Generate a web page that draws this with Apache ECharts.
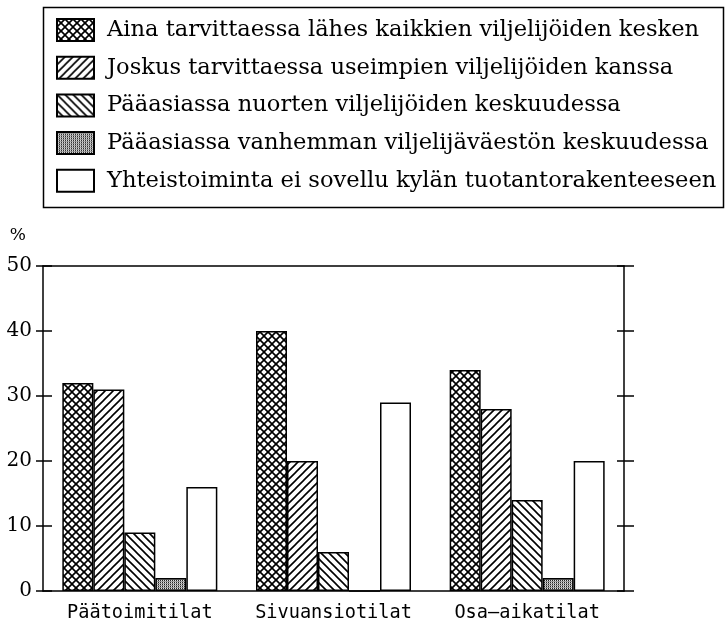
<!DOCTYPE html>
<html>
<head>
<meta charset="utf-8">
<script src="https://cdn.jsdelivr.net/npm/echarts@6/dist/echarts.min.js"></script>
<style>
  html, body { margin: 0; padding: 0; background: #fff; }
  #chart { width: 725px; height: 628px; }
</style>
</head>
<body>
<div id="chart"></div>
<script>
// categories and values (%)
const categories = ['Päätoimitilat', 'Sivuansiotilat', 'Osa–aikatilat'];
const seriesNames = [
  'Aina tarvittaessa lähes kaikkien viljelijöiden kesken',
  'Joskus tarvittaessa useimpien viljelijöiden kanssa',
  'Pääasiassa nuorten viljelijöiden keskuudessa',
  'Pääasiassa vanhemman viljelijäväestön keskuudessa',
  'Yhteistoiminta ei sovellu kylän tuotantorakenteeseen'
];
const ainaValues = [32, 40, 34];
const joskusValues = [31, 20, 28];
const nuortenValues = [9, 6, 14];
const vanhemmanValues = [2, 0, 2];
const eiSovelluValues = [16, 29, 20];
const yTicks = [0, 10, 20, 30, 40, 50];

// hatch fills drawn on small canvases
function tile(draw, size) {
  const c = document.createElement('canvas');
  c.width = size; c.height = size;
  const ctx = c.getContext('2d');
  ctx.fillStyle = '#fff';
  ctx.fillRect(0, 0, size, size);
  ctx.strokeStyle = '#000';
  ctx.lineWidth = 1.6;
  draw(ctx, size);
  return { image: c, repeat: 'repeat' };
}
function forward(ctx, s) {
  ctx.beginPath();
  ctx.moveTo(-1, s + 1); ctx.lineTo(s + 1, -1);
  ctx.moveTo(-1, 1); ctx.lineTo(1, -1);
  ctx.moveTo(s - 1, s + 1); ctx.lineTo(s + 1, s - 1);
  ctx.stroke();
}
function backward(ctx, s) {
  ctx.beginPath();
  ctx.moveTo(-1, -1); ctx.lineTo(s + 1, s + 1);
  ctx.moveTo(s - 1, -1); ctx.lineTo(s + 1, 1);
  ctx.moveTo(-1, s - 1); ctx.lineTo(1, s + 1);
  ctx.stroke();
}
const crossFill = tile((ctx, s) => { forward(ctx, s); backward(ctx, s); }, 8);
const slashFill = tile(forward, 8);
const backFill = tile(backward, 8);
const dotFill = tile((ctx, s) => {
  ctx.fillStyle = '#9a9a9a';
  ctx.fillRect(0, 0, s, s);
  ctx.fillStyle = '#222';
  ctx.fillRect(0, 0, 1, 1);
  ctx.fillStyle = '#e0e0e0';
  ctx.fillRect(1, 0, 1, 1);
}, 2);

const fills = [crossFill, slashFill, backFill, dotFill, '#fff'];
const values = [ainaValues, joskusValues, nuortenValues, vanhemmanValues, eiSovelluValues];

const chart = echarts.init(document.getElementById('chart'), null, { renderer: 'canvas' });

const yBase = {
  type: 'value',
  min: 0,
  max: 50,
  interval: 10,
  splitLine: { show: false },
  axisLabel: { show: false },
  axisLine: { show: false },
  axisTick: { show: true, lineStyle: { color: '#000', width: 1.5 } }
};

const option = {
  animation: false,
  backgroundColor: '#fff',
  graphic: [{
    type: 'rect',
    left: 41,
    top: 5,
    shape: { width: 680, height: 200 },
    style: { fill: 'none', stroke: '#000', lineWidth: 1.5 }
  }],
  legend: {
    orient: 'vertical',
    left: 56,
    top: 18,
    padding: 0,
    itemWidth: 37,
    itemHeight: 22,
    itemGap: 13.7,
    icon: 'rect',
    selectedMode: false,
    textStyle: {
      fontFamily: 'DejaVu Serif',
      fontSize: 22.6,
      color: '#000',
      lineHeight: 22,
      padding: [0, 0, 0, 8]
    },
    data: seriesNames
  },
  grid: { left: 43, right: 101, top: 266, bottom: 37 },
  xAxis: [{
    type: 'category',
    data: categories,
    axisLine: { onZero: false, lineStyle: { color: '#000', width: 1.5 } },
    axisTick: { show: false },
    axisLabel: {
      interval: 0,
      margin: 13,
      fontFamily: 'DejaVu Sans Mono',
      fontSize: 18.6,
      color: '#000'
    }
  }, {
    type: 'category',
    position: 'top',
    data: categories,
    axisLine: { onZero: false, lineStyle: { color: '#000', width: 1.5 } },
    axisTick: { show: false },
    axisLabel: { show: false }
  }],
  yAxis: [{
    ...yBase,
    position: 'left',
    name: '%',
    nameLocation: 'end',
    nameGap: 22,
    nameTextStyle: {
      fontFamily: 'DejaVu Serif',
      fontSize: 17,
      color: '#000',
      align: 'right',
      padding: [0, 17, 0, 0]
    },
    axisLine: { show: true, lineStyle: { color: '#000', width: 1.5 } },
    axisTick: { show: true, length: 7, lineStyle: { color: '#000', width: 1.5 } },
    axisLabel: {
      show: true,
      margin: 11,
      fontFamily: 'DejaVu Serif',
      fontSize: 20,
      color: '#000',
      customValues: yTicks
    }
  }, {
    ...yBase,
    position: 'left',
    axisTick: { show: true, inside: true, length: 9, lineStyle: { color: '#000', width: 1.5 } }
  }, {
    ...yBase,
    position: 'right',
    axisLine: { show: true, lineStyle: { color: '#000', width: 1.5 } },
    axisTick: { show: true, length: 10, lineStyle: { color: '#000', width: 1.5 } }
  }, {
    ...yBase,
    position: 'right',
    axisTick: { show: true, inside: true, length: 7, lineStyle: { color: '#000', width: 1.5 } }
  }],
  series: seriesNames.map((name, i) => ({
    name: name,
    type: 'bar',
    yAxisIndex: 0,
    data: values[i],
    barWidth: 31,
    barGap: '0%',
    itemStyle: {
      color: fills[i],
      borderColor: '#000',
      borderWidth: 1.5
    }
  }))
};

chart.setOption(option);
</script>
</body>
</html>
